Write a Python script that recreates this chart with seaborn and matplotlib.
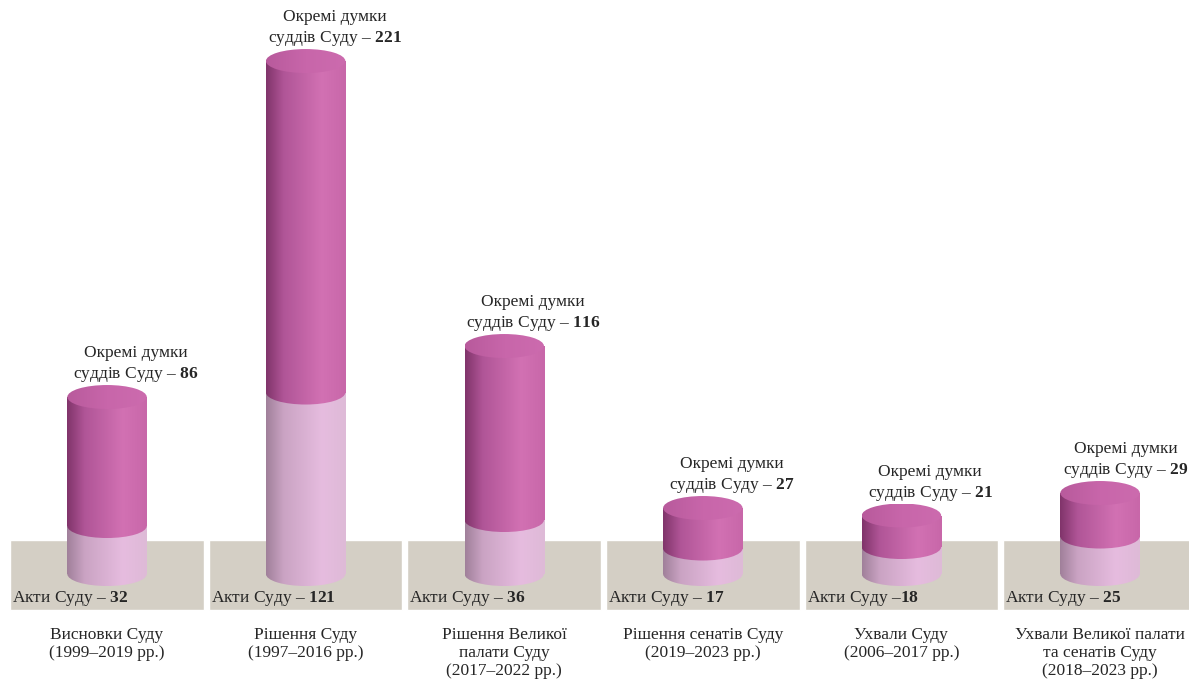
import numpy as np
import pandas as pd
import matplotlib
matplotlib.use("Agg")
import matplotlib.pyplot as plt
import seaborn as sns
from matplotlib.patches import Ellipse
from matplotlib.colors import LinearSegmentedColormap

# Data
groups = ["Висновки Суду\n(1999–2019 рр.)",
          "Рішення Суду\n(1997–2016 рр.)",
          "Рішення Великої\nпалати Суду\n(2017–2022 рр.)",
          "Рішення сенатів Суду\n(2019–2023 рр.)",
          "Ухвали Суду\n(2006–2017 рр.)",
          "Ухвали Великої палати\nта сенатів Суду\n(2018–2023 рр.)"]
acts = [32, 121, 36, 17, 18, 25]
opinions = [86, 221, 116, 27, 21, 29]
acts_dash = [" – ", " – ", " – ", " – ", " –", " – "]

sns.set_style("white")
plt.rcParams["font.family"] = ["Liberation Serif", "DejaVu Serif"]
plt.rcParams["mathtext.fontset"] = "custom"
plt.rcParams["mathtext.rm"] = "Liberation Serif"
plt.rcParams["mathtext.bf"] = "Liberation Serif:bold"

df = pd.DataFrame({"group": [str(i) for i in range(len(groups))],
                   "acts": acts, "opinions": opinions})
df["total"] = df["acts"] + df["opinions"]

text_col = "#262626"
band_col = "#d4cfc5"
dark_cmap = LinearSegmentedColormap.from_list(
    "dark", [(0, "#80346a"), (0.22, "#b05597"), (0.7, "#d271b3"), (1, "#c867a9")])
light_cmap = LinearSegmentedColormap.from_list(
    "light", [(0, "#a0809a"), (0.22, "#caa3c3"), (0.7, "#e6bcdf"), (1, "#debad7")])
cap_cmap = LinearSegmentedColormap.from_list(
    "cap", [(0, "#b85a9c"), (0.5, "#c866aa"), (1, "#cc6bae")])

fig = plt.figure(figsize=(11.89, 6.79), dpi=100)
ax = fig.add_axes([0, 0, 1, 1])

bw = 0.4      # cylinder width
eh = 16       # ellipse height in data units
grad = np.linspace(0, 1, 256).reshape(1, -1)

# grey floor panels
xs = np.arange(len(groups))
ax.bar(xs, 46.7, bottom=-24, width=0.975, color=band_col, zorder=0)

sns.barplot(data=df, x="group", y="total", color="#c867a9", width=bw,
            ax=ax, zorder=2, errorbar=None)
sns.barplot(data=df, x="group", y="acts", color="#dcb1d4", width=bw,
            ax=ax, zorder=3, errorbar=None)
dark_bars = ax.containers[-2].patches
light_bars = ax.containers[-1].patches
for p in list(dark_bars) + list(light_bars):
    p.set_facecolor("none")
    p.set_linewidth(0)


def shade(patch, cmap, z, x0, x1, y0, y1):
    im = ax.imshow(grad, cmap=cmap, extent=[x0, x1, y0, y1],
                   aspect="auto", zorder=z, interpolation="bilinear")
    im.set_clip_path(patch)


for i, row in df.iterrows():
    db, lb = dark_bars[i], light_bars[i]
    x = db.get_x() + bw / 2
    x0, x1 = x - bw / 2, x + bw / 2
    shade(db, dark_cmap, 2, x0, x1, 0, row["total"])
    shade(lb, light_cmap, 3, x0, x1, 0, row["acts"])
    base = Ellipse((x, 0), bw, eh, transform=ax.transData)
    shade(base, light_cmap, 3, x0, x1, -eh / 2, eh / 2)
    mid = Ellipse((x, row["acts"]), bw, eh, transform=ax.transData)
    shade(mid, dark_cmap, 4, x0, x1, row["acts"] - eh / 2, row["acts"] + eh / 2)
    top = Ellipse((x, row["total"]), bw, eh, transform=ax.transData)
    shade(top, cap_cmap, 5, x0, x1, row["total"] - eh / 2, row["total"] + eh / 2)

    # last label sits against the right edge
    dx = 0.145 if i < len(groups) - 1 else 0.13
    ax.text(x + dx, row["total"] + 8.5,
            "Окремі думки\nсуддів Суду – $\\mathbf{%d}$" % row["opinions"],
            ha="center", va="bottom", fontsize=12.5, color=text_col,
            linespacing=1.3, zorder=6)
    ax.text(x - 0.478, -16.5, "Акти Суду" + acts_dash[i] + "$\\mathbf{%d}$" % row["acts"],
            ha="left", va="center", fontsize=12.5, color=text_col, zorder=6)
    ax.text(x, -35, groups[i], ha="center", va="top", fontsize=12.5,
            color=text_col, linespacing=1.17, zorder=6)

ax.set_xlim(-0.539, 5.448)
ax.set_ylim(-70, 382.7)
ax.axis("off")

fig.savefig("out.png", dpi=100)
